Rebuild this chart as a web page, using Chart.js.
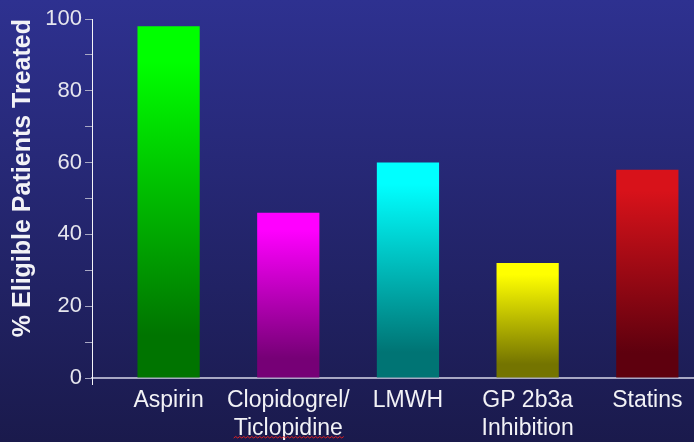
<!DOCTYPE html>
<html>
<head>
<meta charset="utf-8">
<script src="https://cdn.jsdelivr.net/npm/chart.js@4/dist/chart.umd.min.js"></script>
<style>
  body { margin: 0; background: #1a1a4c; overflow: hidden; }
  #chart { display: block; }
</style>
</head>
<body>
<canvas id="chart" width="694" height="442"></canvas>
<script>
// categories and values
const categories = ['Aspirin', ['Clopidogrel/', 'Ticlopidine'], 'LMWH', ['GP 2b3a', 'Inhibition'], 'Statins'];
const treated = [98, 46, 60, 32, 58];
const yTicks = [0, 10, 20, 30, 40, 50, 60, 70, 80, 90, 100];

const topColors = ['#00ff00', '#ff00ff', '#00ffff', '#ffff00', '#d8121a'];
const bottomColors = ['#007400', '#760076', '#007474', '#747400', '#5e000e'];
const labelFont = '"Liberation Sans", Arial, sans-serif';

const barFill = (ctx) => {
	const chart = ctx.chart;
	const i = ctx.dataIndex;
	if (!chart.chartArea || i === undefined) {
		return topColors[i || 0];
	}
	const y = chart.scales.y;
	const g = chart.ctx.createLinearGradient(0, y.getPixelForValue(treated[i]), 0, y.getPixelForValue(0));
	g.addColorStop(0, topColors[i]);
	g.addColorStop(0.1, topColors[i]);
	g.addColorStop(0.88, bottomColors[i]);
	g.addColorStop(1, bottomColors[i]);
	return g;
};

const slideBackground = {
	id: 'slideBackground',
	beforeDraw(chart) {
		const { ctx, width, height } = chart;
		const g = ctx.createLinearGradient(0, 0, 0, height);
		g.addColorStop(0, '#2e3190');
		g.addColorStop(1, '#1a1a4c');
		ctx.save();
		ctx.fillStyle = g;
		ctx.fillRect(0, 0, width, height);
		ctx.restore();
	},
	afterDraw(chart) {
		const { ctx, chartArea } = chart;
		ctx.save();
		// y axis runs a little past the zero line
		ctx.strokeStyle = '#f4f4f8';
		ctx.lineWidth = 1;
		ctx.beginPath();
		ctx.moveTo(chartArea.left + 0.5, chartArea.bottom);
		ctx.lineTo(chartArea.left + 0.5, chartArea.bottom + 7);
		ctx.stroke();

		// the spell-check squiggle under "Ticlopidine" on the slide
		ctx.font = '23px ' + labelFont;
		const w = ctx.measureText('Ticlopidine').width;
		const cx = chart.scales.x.getPixelForValue(1);
		let x = cx - w / 2;
		const y = 438;
		ctx.strokeStyle = '#e02020';
		ctx.beginPath();
		ctx.moveTo(x, y);
		let up = true;
		while (x < cx + w / 2) {
			x += 2;
			ctx.lineTo(x, up ? y - 1.5 : y);
			up = !up;
		}
		ctx.stroke();
		ctx.restore();
	},
};

new Chart(document.getElementById('chart'), {
	type: 'bar',
	data: {
		datasets: [
			{
				label: '% Eligible Patients Treated',
				data: treated.map((v, i) => ({ x: i, y: v })),
				backgroundColor: barFill,
				borderWidth: 0,
				barPercentage: 0.52,
				categoryPercentage: 1,
			},
		],
	},
	options: {
		responsive: false,
		animation: false,
		layout: { padding: { top: 19, left: 0, right: 0, bottom: 0 } },
		plugins: {
			legend: { display: false },
			tooltip: { enabled: false },
		},
		scales: {
			x: {
				type: 'linear',
				min: -0.64,
				max: 4.39,
				offset: false,
				grid: { display: false, drawTicks: false },
				border: { display: true, color: '#a8a8c4', width: 2 },
				afterBuildTicks: (scale) => {
					scale.ticks = categories.map((c, i) => ({ value: i }));
				},
				afterFit: (scale) => {
					scale.height = 64;
				},
				ticks: {
					color: '#f2f2f6',
					padding: 9,
					maxRotation: 0,
					autoSkip: false,
					font: { family: labelFont, size: 23 },
					callback: (value) => categories[value],
				},
			},
			y: {
				min: 0,
				max: 100,
				afterBuildTicks: (scale) => {
					scale.ticks = yTicks.map((v) => ({ value: v }));
				},
				afterFit: (scale) => {
					scale.width = 92;
				},
				grid: {
					drawOnChartArea: false,
					drawTicks: true,
					tickLength: 7,
					color: '#a8a8c4',
				},
				border: { display: true, color: '#f4f4f8', width: 1 },
				ticks: {
					color: '#e6e6ee',
					padding: 3,
					font: { family: labelFont, size: 22 },
					callback: (value) => (value % 20 === 0 ? value : ''),
				},
				title: {
					display: true,
					text: '% Eligible Patients Treated',
					align: 'end',
					color: '#f2f2f6',
					padding: { top: 8, bottom: 0 },
					font: { family: labelFont, size: 25, weight: 'bold' },
				},
			},
		},
	},
	plugins: [slideBackground],
});
</script>
</body>
</html>
